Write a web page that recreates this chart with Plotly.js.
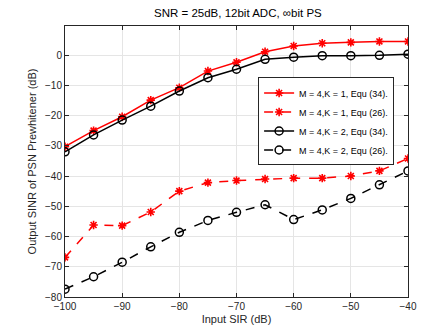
<!DOCTYPE html>
<html>
<head>
<script src="https://cdn.plot.ly/plotly-3.0.1.min.js"></script>
<style>body{margin:0;background:#fff}</style>
</head>
<body>
<div id="plotArea" style="width:443px;height:332px"></div>
<script>
var sir = [-100, -95, -90, -85, -80, -75, -70, -65, -60, -55, -50, -45, -40];

var k1Eq34 = [-30.3, -25.0, -20.4, -14.9, -10.8, -5.3, -2.4, 1.1, 3.0, 3.9, 4.2, 4.5, 4.5];
var k1Eq26 = [-66.9, -56.2, -56.4, -51.9, -45.0, -42.2, -41.5, -41.0, -40.7, -40.7, -40.0, -38.3, -34.2];
var k2Eq34 = [-32.0, -26.4, -21.5, -16.9, -11.9, -7.5, -4.7, -1.4, -0.7, -0.2, -0.2, -0.1, 0.3];
var k2Eq26 = [-77.4, -73.3, -68.5, -63.4, -58.6, -54.7, -52.0, -49.5, -54.4, -51.2, -47.4, -42.9, -38.3];

var names = ["M = 4,K = 1, Equ (34).", "M = 4,K = 1, Equ (26).",
             "M = 4,K = 2, Equ (34).", "M = 4,K = 2, Equ (26)."];

function star(y, name, dash) {
    return {
        x: sir, y: y, name: name, type: "scatter", mode: "lines+markers",
        line: {color: "#ff0000", width: 1.5, dash: dash},
        marker: {symbol: "asterisk-open", size: 7, color: "#ff0000",
                 line: {color: "#ff0000", width: 1.6}}
    };
}
function ring(y, name, dash) {
    return {
        x: sir, y: y, name: name, type: "scatter", mode: "lines+markers",
        line: {color: "#000000", width: 1.5, dash: dash},
        marker: {symbol: "circle-open", size: 8, color: "#000000",
                 line: {color: "#000000", width: 1.5}}
    };
}

var data = [
    star(k1Eq34, names[0], "solid"),
    star(k1Eq26, names[1], "dash"),
    ring(k2Eq34, names[2], "solid"),
    ring(k2Eq26, names[3], "dash")
];

var axisStyle = {
    showline: true, mirror: "ticks", linecolor: "#262626", linewidth: 1,
    ticks: "inside", ticklen: 4, tickcolor: "#262626",
    showgrid: true, gridcolor: "#e5e5e5", zeroline: false,
    tickfont: {size: 10, color: "#262626"}
};

var layout = {
    width: 443, height: 332,
    margin: {l: 65, r: 35, t: 26, b: 35},
    font: {family: "Liberation Sans, Arial, sans-serif", color: "#262626"},
    paper_bgcolor: "#ffffff", plot_bgcolor: "#ffffff",
    title: {text: "SNR = 25dB, 12bit ADC, ∞bit PS", font: {size: 11.5, color: "#000"},
            x: 0.537, xanchor: "center", y: 0.962, yanchor: "middle"},
    xaxis: Object.assign({}, axisStyle, {
        range: [-100, -40], dtick: 10, tick0: -100,
        title: {text: "Input SIR (dB)", font: {size: 11}, standoff: 4}
    }),
    yaxis: Object.assign({}, axisStyle, {
        range: [-80, 9.6], dtick: 10, tick0: -80,
        title: {text: "Output SINR of PSN Prewhitener (dB)", font: {size: 11}, standoff: 6}
    }),
    legend: {
        x: 0.563, y: 0.81, xanchor: "left", yanchor: "top",
        bgcolor: "#ffffff", bordercolor: "#262626", borderwidth: 1,
        font: {size: 9, color: "#000"}, tracegroupgap: 0, itemwidth: 30
    },
    showlegend: true
};

Plotly.newPlot("plotArea", data, layout, {displayModeBar: false});
</script>
</body>
</html>
